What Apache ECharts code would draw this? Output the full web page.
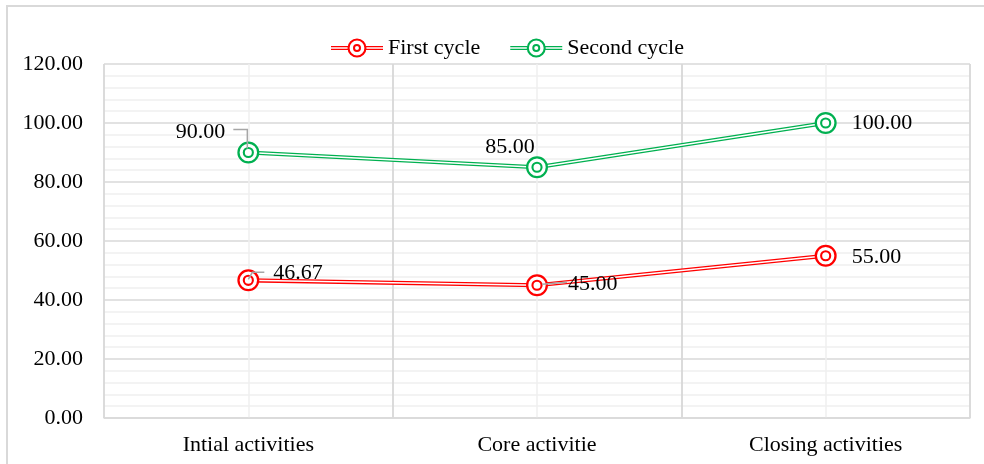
<!DOCTYPE html>
<html>
<head>
<meta charset="utf-8">
<script src="https://cdn.jsdelivr.net/npm/echarts@6/dist/echarts.min.js"></script>
<style>
html,body{margin:0;padding:0;background:#fff;}
#chart{width:984px;height:464px;}
</style>
</head>
<body>
<div id="chart"></div>
<script>
// ---- data ----
var categories = ['Intial activities', 'Core activitie', 'Closing activities'];
var firstCycle = [46.67, 45.00, 55.00];
var secondCycle = [90.00, 85.00, 100.00];
var seriesNames = ['First cycle', 'Second cycle'];
var yTicks = { min: 0, max: 120, interval: 20 };

// ---- styling ----
var FONT = 'Liberation Serif';
var FS = 22;
var RED = '#ff0000';
var GREEN = '#00b050';
var MAJOR = '#d9d9d9';
var MINOR = '#efefef';

var ringSymbol = 'path://M1,12 A11,11 0 1,1 23,12 A11,11 0 1,1 1,12 Z ' +
  'M3.3,12 A8.7,8.7 0 1,0 20.7,12 A8.7,8.7 0 1,0 3.3,12 Z ' +
  'M6.4,12 A5.6,5.6 0 1,1 17.6,12 A5.6,5.6 0 1,1 6.4,12 Z ' +
  'M8.5,12 A3.5,3.5 0 1,0 15.5,12 A3.5,3.5 0 1,0 8.5,12 Z';

var legendIcon = 'path://M0,8 L17.5,8 L17.5,9.2 L0,9.2 Z M0,10.8 L17.5,10.8 L17.5,12 L0,12 Z ' +
  'M34.5,8 L52,8 L52,9.2 L34.5,9.2 Z M34.5,10.8 L52,10.8 L52,12 L34.5,12 Z ' +
  'M16.5,10 A9.5,9.5 0 1,1 35.5,10 A9.5,9.5 0 1,1 16.5,10 Z ' +
  'M18.6,10 A7.4,7.4 0 1,0 33.4,10 A7.4,7.4 0 1,0 18.6,10 Z ' +
  'M22,10 A4,4 0 1,1 30,10 A4,4 0 1,1 22,10 Z ' +
  'M24,10 A2,2 0 1,0 28,10 A2,2 0 1,0 24,10 Z';

// label placement per point (style only)
var firstLabelCfg = [
  { position: 'right', distance: 14, offset: [0, -7] },
  { position: 'right', distance: 20, offset: [0, -1] },
  { position: 'right', distance: 15, offset: [0, 1] }
];
var secondLabelCfg = [
  { position: 'left', distance: 12, offset: [0, -20] },
  { position: 'top', distance: 0, offset: [-27, 2] },
  { position: 'right', distance: 15, offset: [0, 0] }
];
// leader lines: [seriesIndex(0 first / 1 second), categoryIndex, pixel polyline relative to point]
var leaderCfg = [
  [1, 0, [[-15, -23], [-1, -23], [-1, -4]]],
  [0, 0, [[16, -8], [4, -8], [0, -1]]],
  [0, 1, [[5, -1], [30, -3]]]
];

function labeledData(values, cfg) {
  return values.map(function (v, i) {
    var c = cfg[i];
    return { value: v, label: { position: c.position, distance: c.distance, offset: c.offset } };
  });
}

function cycleSeries(name, values, color, cfg, zBase) {
  return [
    {
      name: name, type: 'line', data: labeledData(values, cfg),
      symbol: ringSymbol, symbolSize: 22, symbolKeepAspect: true,
      itemStyle: { color: color },
      lineStyle: { width: 0, opacity: 0 },
      z: zBase + 3,
      label: {
        show: true, fontFamily: FONT, fontSize: FS, color: '#000',
        formatter: function (p) { return p.value.toFixed(2); }
      },
      emphasis: { disabled: true },
      animation: false
    },
    {
      name: name, type: 'line', data: values,
      symbol: 'circle', symbolSize: 20,
      itemStyle: { color: '#fff', borderWidth: 0 },
      lineStyle: { width: 4.2, color: color },
      z: zBase + 1, silent: true, emphasis: { disabled: true }, animation: false
    },
    {
      name: name, type: 'line', data: values,
      symbol: 'none',
      lineStyle: { width: 1.4, color: '#fff' },
      z: zBase + 2, silent: true, emphasis: { disabled: true }, animation: false
    }
  ];
}

var cycles = [firstCycle, secondCycle];
var leaderData = leaderCfg.map(function (l) { return [l[1], cycles[l[0]][l[1]]]; });

var leaderSeries = {
  type: 'custom', name: 'leaders', data: leaderData, z: 40, silent: true,
  animation: false,
  renderItem: function (params, api) {
    var p = api.coord([api.value(0), api.value(1)]);
    var rel = leaderCfg[params.dataIndex][2];
    return {
      type: 'polyline',
      shape: { points: rel.map(function (d) { return [p[0] + d[0], p[1] + d[1]]; }) },
      style: { stroke: '#a6a6a6', lineWidth: 1.5, fill: 'none' }
    };
  }
};

var chart = echarts.init(document.getElementById('chart'), null, { renderer: 'canvas' });

var option = {
  backgroundColor: '#fff',
  animation: false,
  textStyle: { fontFamily: FONT },
  graphic: [{
    type: 'polyline', z: -10,
    shape: { points: [[7, 470], [7, 6], [990, 6]] },
    style: { fill: 'none', stroke: MAJOR, lineWidth: 2 }
  }],
  legend: {
    left: 326, top: 32,
    itemWidth: 52, itemHeight: 20, itemGap: 30,
    icon: legendIcon,
    textStyle: { fontFamily: FONT, fontSize: FS, color: '#000' },
    data: seriesNames
  },
  grid: { left: 104, right: 14, top: 64, bottom: 46 },
  xAxis: [
    {
      type: 'category', data: categories, boundaryGap: true,
      axisLine: { show: true, lineStyle: { color: MAJOR, width: 1.5 } },
      axisTick: { show: false },
      splitLine: { show: true, lineStyle: { color: MAJOR, width: 1.5 } },
      axisLabel: { fontFamily: FONT, fontSize: FS, color: '#000', margin: 16 }
    },
    {
      type: 'value', min: 0, max: 3, interval: 0.5, position: 'top',
      axisLine: { show: false }, axisTick: { show: false }, axisLabel: { show: false },
      splitLine: { show: true, lineStyle: { color: [MAJOR, MINOR], width: 1.5 } }
    }
  ],
  yAxis: {
    type: 'value', min: yTicks.min, max: yTicks.max, interval: yTicks.interval,
    axisLine: { show: false }, axisTick: { show: false },
    minorTick: { show: false, splitNumber: 5 },
    minorSplitLine: { show: true, lineStyle: { color: MINOR, width: 1.5 } },
    splitLine: { show: true, lineStyle: { color: MAJOR, width: 1.5 } },
    axisLabel: {
      fontFamily: FONT, fontSize: FS, color: '#000', margin: 21,
      formatter: function (v) { return v.toFixed(2); }
    }
  },
  series: [].concat(
    cycleSeries(seriesNames[0], firstCycle, RED, firstLabelCfg, 10),
    cycleSeries(seriesNames[1], secondCycle, GREEN, secondLabelCfg, 20),
    [leaderSeries]
  )
};
chart.setOption(option);
</script>
</body>
</html>
